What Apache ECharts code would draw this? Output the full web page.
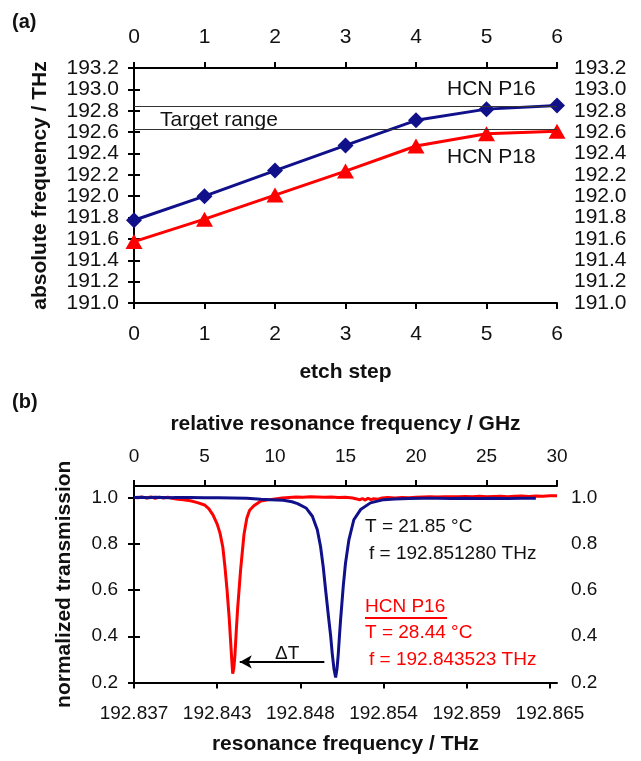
<!DOCTYPE html>
<html>
<head>
<meta charset="utf-8">
<script src="https://cdn.jsdelivr.net/npm/echarts@6/dist/echarts.min.js"></script>
<style>
html,body{margin:0;padding:0;background:#fff;}
#c{width:641px;height:761px;}
</style>
</head>
<body>
<div id="c"></div>
<script>
// ---------- Panel (a) data ----------
const etchSteps = [0, 1, 2, 3, 4, 5, 6];
const p16Freq = [191.775, 192.00, 192.24, 192.475, 192.71, 192.815, 192.85];
const p18Freq = [191.575, 191.785, 192.01, 192.235, 192.47, 192.585, 192.607];
const targetRange = [192.835, 192.632];

// ---------- Panel (b) data: [relative GHz, normalized transmission] ----------
const redTrace = [
  [0.0,1.000],[0.3,0.999],[0.6,1.002],[0.9,0.998],[1.2,1.003],[1.5,0.997],[1.8,1.001],[2.1,0.998],
  [2.4,1.002],[2.7,0.997],[3.0,0.994],[3.5,0.990],[4.0,0.986],[4.5,0.978],[5.0,0.968],[5.3,0.952],
  [5.6,0.925],[5.9,0.885],[6.1,0.846],[6.3,0.785],[6.45,0.700],[6.6,0.600],[6.75,0.480],[6.85,0.380],
  [6.93,0.300],[7.0,0.238],[7.08,0.262],[7.16,0.320],[7.25,0.420],[7.35,0.520],[7.45,0.600],[7.55,0.680],
  [7.65,0.745],[7.8,0.840],[8.0,0.910],[8.2,0.945],[8.5,0.965],[9.0,0.985],[9.5,0.990],[10.0,0.994],
  [10.5,0.998],[11.0,1.000],[11.5,1.002],[12.0,1.001],[12.5,1.003],[13.0,1.002],[13.5,1.001],[14.0,1.002],
  [14.5,1.000],[15.0,1.001],[15.5,0.998],[15.8,0.994],[16.0,0.990],[16.2,0.996],[16.4,0.989],[16.6,0.997],
  [16.8,0.991],[17.0,0.995],[17.3,0.993],[17.6,0.998],[18.0,1.000],[18.5,0.998],[19.0,1.000],[19.5,0.999],
  [20.0,1.001],[20.5,1.002],[21.0,1.003],[21.5,1.002],[22.0,1.004],[22.5,1.003],[23.0,1.004],[23.5,1.005],
  [24.0,1.003],[24.5,1.006],[25.0,1.004],[25.5,1.005],[26.0,1.006],[26.5,1.004],[27.0,1.006],[27.5,1.007],
  [28.0,1.005],[28.5,1.007],[29.0,1.006],[29.5,1.008],[30.0,1.008]
];
const blueTrace = [
  [0.0,1.000],[0.5,1.001],[1.0,0.999],[1.5,1.001],[2.0,1.000],[2.5,0.999],[3.0,1.000],[4.0,1.000],
  [5.0,0.999],[6.0,0.999],[7.0,0.998],[8.0,0.997],[8.5,0.995],[9.0,0.993],[9.7,0.991],[10.6,0.988],
  [11.2,0.982],[11.6,0.974],[12.2,0.955],[12.65,0.919],[13.0,0.861],[13.23,0.788],[13.42,0.700],[13.59,0.600],
  [13.82,0.470],[13.95,0.400],[14.06,0.325],[14.18,0.260],[14.3,0.222],[14.4,0.260],[14.49,0.325],[14.57,0.400],
  [14.65,0.470],[14.84,0.616],[15.0,0.716],[15.24,0.817],[15.59,0.904],[16.07,0.948],[16.77,0.977],[17.71,0.991],
  [18.5,0.994],[19.5,0.996],[20.5,0.997],[21.5,0.997],[22.5,0.996],[23.5,0.997],[24.5,0.996],[25.5,0.997],
  [26.5,0.996],[27.5,0.997],[28.5,0.997]
];
const relTicks = [0, 5, 10, 15, 20, 25, 30];
const thzTickPositions = [0, 5.9, 11.8, 17.7, 23.6, 29.5];
const thzTickLabels = ['192.837', '192.843', '192.848', '192.854', '192.859', '192.865'];
const transTicks = [0.2, 0.4, 0.6, 0.8, 1.0];
const arrowFrom = [13.5, 0.289];
const arrowTo = [7.5, 0.289];

const FONT = '"Liberation Sans", Arial, Helvetica, sans-serif';
const BLUE = '#10108a';
const RED = '#ff0000';
const TXT = '#111';

const axisLineS = { show: true, lineStyle: { color: '#000', width: 2 } };
const axisTickS = { show: true, inside: false, length: 6, lineStyle: { color: '#000', width: 2 } };

function lbl(size, margin, extra) {
  return Object.assign({ color: TXT, fontFamily: FONT, fontSize: size, margin: margin }, extra || {});
}
const nameStyle = { color: TXT, fontFamily: FONT, fontSize: 21, fontWeight: 'bold' };

const chart = echarts.init(document.getElementById('c'), null, { renderer: 'canvas' });

const option = {
  backgroundColor: '#fff',
  animation: false,
  grid: [
    { left: 134, top: 68, width: 423, height: 235, containLabel: false },
    { left: 134, top: 486, width: 423, height: 196.5, containLabel: false }
  ],
  xAxis: [
    { gridIndex: 0, type: 'value', position: 'bottom', min: 0, max: 6, interval: 1,
      axisLine: axisLineS, axisTick: axisTickS, splitLine: { show: false },
      axisLabel: lbl(21, 21),
      name: 'etch step', nameLocation: 'middle', nameGap: 59, nameTextStyle: nameStyle },
    { gridIndex: 0, type: 'value', position: 'top', min: 0, max: 6, interval: 1,
      axisLine: axisLineS, axisTick: axisTickS, splitLine: { show: false },
      axisLabel: lbl(21, 20) },
    { gridIndex: 1, type: 'value', position: 'top', min: 0, max: 30, interval: 5,
      axisLine: axisLineS, axisTick: axisTickS, splitLine: { show: false },
      axisLabel: lbl(19, 20),
      name: 'relative resonance frequency / GHz', nameLocation: 'middle', nameGap: 51, nameTextStyle: nameStyle },
    { gridIndex: 1, type: 'value', position: 'bottom', min: 0, max: 30,
      axisLine: axisLineS,
      axisTick: Object.assign({}, axisTickS, { customValues: thzTickPositions }),
      splitLine: { show: false },
      axisLabel: lbl(19, 22, {
        customValues: thzTickPositions,
        formatter: function (v) {
          const i = thzTickPositions.findIndex(function (t) { return Math.abs(t - v) < 1e-6; });
          return i >= 0 ? thzTickLabels[i] : '';
        }
      }),
      name: 'resonance frequency / THz', nameLocation: 'middle', nameGap: 51, nameTextStyle: nameStyle }
  ],
  yAxis: [
    { gridIndex: 0, type: 'value', position: 'left', min: 191.0, max: 193.2, interval: 0.2,
      axisLine: axisLineS, axisTick: axisTickS, splitLine: { show: false },
      axisLabel: lbl(21, 15, { formatter: function (v) { return v.toFixed(1); } }),
      name: 'absolute frequency / THz', nameLocation: 'middle', nameGap: 83, nameTextStyle: nameStyle },
    { gridIndex: 0, type: 'value', position: 'right', min: 191.0, max: 193.2, interval: 0.2,
      axisLine: axisLineS, axisTick: axisTickS, splitLine: { show: false },
      axisLabel: lbl(21, 17, { formatter: function (v) { return v.toFixed(1); } }) },
    { gridIndex: 1, type: 'value', position: 'left', min: 0.2, max: 1.05,
      axisLine: axisLineS,
      axisTick: Object.assign({}, axisTickS, { customValues: transTicks }),
      splitLine: { show: false },
      axisLabel: lbl(19, 16, { customValues: transTicks, formatter: function (v) { return v.toFixed(1); } }),
      name: 'normalized transmission', nameLocation: 'middle', nameGap: 59, nameTextStyle: nameStyle },
    { gridIndex: 1, type: 'value', position: 'right', min: 0.2, max: 1.05,
      axisLine: axisLineS,
      axisTick: Object.assign({}, axisTickS, { customValues: transTicks }),
      splitLine: { show: false },
      axisLabel: lbl(19, 14, { customValues: transTicks, formatter: function (v) { return v.toFixed(1); } }) }
  ],
  series: [
    {
      name: 'HCN P18', type: 'line', xAxisIndex: 0, yAxisIndex: 0, clip: false,
      data: etchSteps.map(function (s, i) { return [s, p18Freq[i]]; }),
      symbol: 'triangle', symbolSize: [17, 15],
      lineStyle: { color: RED, width: 3 }, itemStyle: { color: RED }, z: 3
    },
    {
      name: 'HCN P16', type: 'line', xAxisIndex: 0, yAxisIndex: 0, clip: false,
      data: etchSteps.map(function (s, i) { return [s, p16Freq[i]]; }),
      symbol: 'diamond', symbolSize: 16,
      lineStyle: { color: BLUE, width: 3 }, itemStyle: { color: BLUE }, z: 4,
      markLine: {
        silent: true, symbol: 'none', animation: false,
        label: { show: false },
        lineStyle: { color: '#333', width: 1, type: 'solid' },
        data: targetRange.map(function (v) { return { yAxis: v }; })
      }
    },
    {
      name: 'red', type: 'line', xAxisIndex: 2, yAxisIndex: 2,
      data: redTrace, showSymbol: false, symbol: 'none',
      lineStyle: { color: RED, width: 3 }, z: 3
    },
    {
      name: 'blue', type: 'line', xAxisIndex: 2, yAxisIndex: 2,
      data: blueTrace, showSymbol: false, symbol: 'none',
      lineStyle: { color: BLUE, width: 3 }, z: 4,
      markLine: {
        silent: true, animation: false, symbol: ['none', 'arrow'], symbolSize: [10, 12],
        label: { show: false },
        lineStyle: { color: '#000', width: 2, type: 'solid' },
        data: [[{ coord: arrowFrom }, { coord: arrowTo }]]
      }
    }
  ],
  graphic: [
    { type: 'text', left: 12, top: 12, style: { text: '(a)', font: 'bold 20px ' + FONT, fill: TXT } },
    { type: 'text', left: 12, top: 392, style: { text: '(b)', font: 'bold 20px ' + FONT, fill: TXT } },
    { type: 'text', x: 447, y: 89, style: { text: 'HCN P16', font: '21px ' + FONT, fill: TXT, verticalAlign: 'middle' } },
    { type: 'text', x: 160, y: 120, style: { text: 'Target range', font: '21px ' + FONT, fill: TXT, verticalAlign: 'middle' } },
    { type: 'text', x: 447, y: 157, style: { text: 'HCN P18', font: '21px ' + FONT, fill: TXT, verticalAlign: 'middle' } },
    { type: 'text', x: 365, y: 527, style: { text: 'T = 21.85 °C', font: '19px ' + FONT, fill: TXT, verticalAlign: 'middle' } },
    { type: 'text', x: 369, y: 554, style: { text: 'f = 192.851280 THz', font: '19px ' + FONT, fill: TXT, verticalAlign: 'middle' } },
    { type: 'text', x: 365, y: 607, style: { text: 'HCN P16', font: '19px ' + FONT, fill: RED, verticalAlign: 'middle' } },
    { type: 'line', shape: { x1: 365, y1: 618, x2: 447, y2: 618 }, style: { stroke: RED, lineWidth: 2 } },
    { type: 'text', x: 365, y: 633, style: { text: 'T = 28.44 °C', font: '19px ' + FONT, fill: RED, verticalAlign: 'middle' } },
    { type: 'text', x: 369, y: 660, style: { text: 'f = 192.843523 THz', font: '19px ' + FONT, fill: RED, verticalAlign: 'middle' } },
    { type: 'text', x: 275, y: 654, style: { text: 'ΔT', font: '19px ' + FONT, fill: TXT, verticalAlign: 'middle' } }
  ]
};
chart.setOption(option);
</script>
</body>
</html>
